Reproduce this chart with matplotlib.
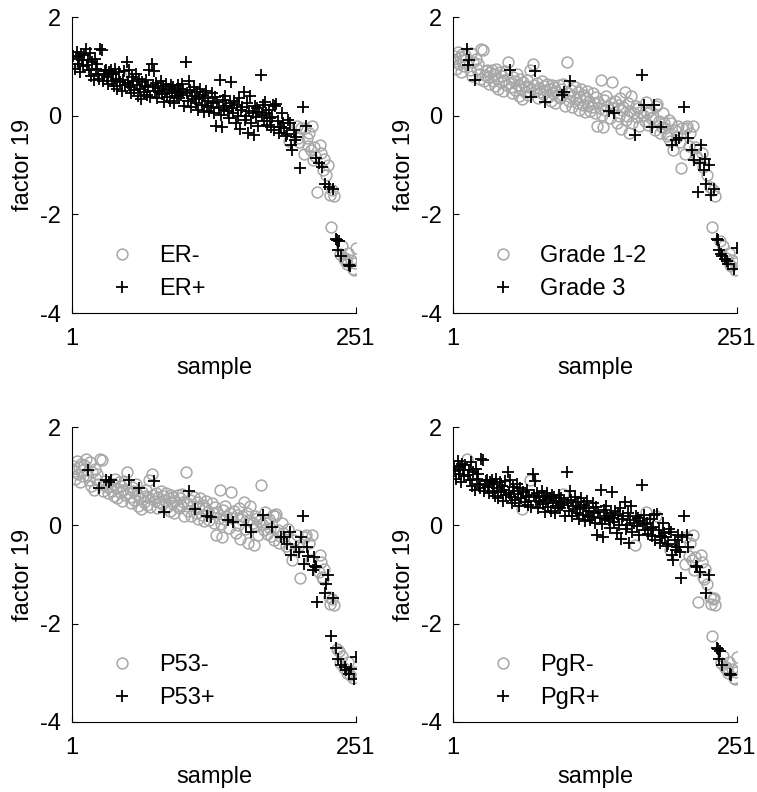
import matplotlib
matplotlib.use("Agg")
import matplotlib.pyplot as plt
from matplotlib.lines import Line2D
import numpy as np

# factor 19 score per sample (samples 1..251, in plotted order)
factor19 = [
    1.15, 1.20, 1.10, 0.95, 1.30, 1.05, 1.18, 0.88, 1.25, 1.12,
    1.00, 1.22, 1.35, 1.03, 1.12, 0.92, 1.28, 0.80, 1.08, 0.72,
    1.15, 0.95, 1.05, 0.85, 0.75, 1.35, 1.33, 0.70, 0.82, 0.90,
    0.92, 0.78, 0.65, 0.88, 0.92, 0.70, 0.85, 0.60, 0.95, 0.75,
    0.55, 0.88, 0.68, 0.80, 0.50, 0.72, 0.90, 0.62, 1.08, 0.66,
    0.92, 0.58, 0.45, 0.78, 0.70, 0.52, 0.85, 0.63, 0.40, 0.75,
    0.55, 0.34, 0.68, 0.48, 0.60, 0.72, 0.42, 0.58, 0.92, 0.38,
    1.05, 0.62, 0.91, 0.50, 0.66, 0.35, 0.57, 0.48, 0.70, 0.44,
    0.60, 0.28, 0.52, 0.65, 0.38, 0.55, 0.30, 0.62, 0.45, 0.58,
    0.25, 0.50, 0.40, 0.62, 0.35, 0.55, 0.42, 0.64, 0.48, 0.20,
    1.08, 0.45, 0.30, 0.70, 0.52, 0.18, 0.40, 0.58, 0.34, 0.25,
    0.48, 0.12, 0.38, 0.55, 0.22, 0.42, 0.08, 0.35, 0.50, 0.20,
    0.30, 0.10, 0.17, 0.45, 0.25, 0.05, 0.38, -0.20, 0.28, 0.15,
    0.72, 0.02, -0.23, 0.32, 0.12, 0.40, 0.20, 0.10, -0.05, 0.26,
    0.68, 0.15, 0.06, 0.30, -0.15, 0.22, 0.00, 0.35, -0.28, 0.12,
    0.18, 0.48, -0.08, 0.00, 0.25, -0.35, 0.10, 0.40, -0.14, 0.05,
    -0.40, 0.20, -0.02, 0.15, -0.20, 0.08, 0.82, 0.02, 0.22, -0.10,
    0.27, 0.05, -0.18, 0.12, -0.05, -0.22, -0.03, 0.21, -0.30, 0.20,
    0.24, -0.10, -0.35, -0.22, -0.23, 0.05, -0.15, -0.24, -0.42, -0.37,
    -0.08, -0.51, -0.14, -0.60, -0.70, -0.30, -0.50, -0.44, -0.20, -0.45,
    -0.54, -1.07, -0.24, 0.18, -0.78, -0.24, -0.20, -0.45, -0.62, -0.35,
    -0.70, -0.20, -0.90, -0.64, -0.82, -0.85, -1.55, -0.95, -0.60, -0.75,
    -1.05, -1.10, -0.88, -1.38, -1.20, -1.00, -1.45, -1.60, -2.25, -1.50,
    -1.48, -1.62, -2.50, -2.52, -2.72, -2.55, -2.80, -2.85, -2.65, -2.90,
    -2.88, -2.95, -3.00, -2.78, -3.03, -3.05, -2.92, -3.10, -3.12, -2.98,
    -2.68,
]

# 1-based sample numbers of the group drawn with circles / crosses
er_neg = [3, 44, 192, 199, 200, 201, 203, 205, 206, 208, 209, 210, 211, 212,
          213, 214, 215, 217, 219, 220, 222, 223, 225, 226, 228, 229, 230,
          232, 237, 239, 240, 241, 242, 243, 244, 247, 248, 249, 250, 251]
grade3 = [13, 14, 15, 20, 51, 70, 73, 82, 97, 99, 104, 138, 143, 161, 167,
          169, 176, 178, 184, 194, 197, 200, 204, 208, 211, 213, 217, 218,
          219, 222, 223, 224, 226, 228, 231, 233, 234, 235, 237, 238, 240,
          242, 243, 248, 251]
p53_pos = [15, 25, 31, 34, 35, 51, 60, 73, 82, 104, 109, 120, 123, 138, 143,
           154, 159, 169, 177, 185, 188, 190, 193, 194, 198, 201, 203, 204,
           205, 208, 209, 213, 214, 215, 216, 217, 224, 225, 226, 229, 231,
           233, 235, 238, 241, 242, 245, 247, 249, 251]
pgr_neg = [13, 62, 69, 98, 161, 171, 180, 192, 205, 206, 209, 210, 211, 212,
           213, 214, 217, 219, 220, 221, 222, 223, 225, 227, 228, 229, 230,
           231, 232, 237, 239, 240, 241, 242, 243, 244, 247, 248, 249, 250, 251]

panels = [
    ("ER-", "ER+", er_neg, "circle"),
    ("Grade 1-2", "Grade 3", grade3, "cross"),
    ("P53-", "P53+", p53_pos, "cross"),
    ("PgR-", "PgR+", pgr_neg, "circle"),
]

plt.rcParams["font.family"] = ["Liberation Sans", "DejaVu Sans"]
GRAY = "#a8a8a8"
FS = 17

fig = plt.figure(figsize=(7.57, 7.92), dpi=100)
W, H = 757.0, 792.0
boxes = [(72, 17, 284, 296), (453, 17, 284, 296),
         (72, 427, 284, 295), (453, 427, 284, 295)]

y = np.array(factor19)
x = np.arange(1, len(y) + 1)

for (lab_o, lab_p, idx, kind), (bx, by, bw, bh) in zip(panels, boxes):
    ax = fig.add_axes([bx / W, 1 - (by + bh) / H, bw / W, bh / H])
    sel = np.zeros(len(y), dtype=bool)
    sel[np.array(idx) - 1] = True
    circ = ~sel if kind == "cross" else sel
    ax.plot(x[circ], y[circ], "o", mfc="none", mec=GRAY, ms=7.8, mew=1.1, zorder=2)
    ax.plot(x[~circ], y[~circ], "+", color="black", ms=8.5, mew=1.3, zorder=3)
    ax.set_xlim(1, 251); ax.set_ylim(-4, 2)
    ax.set_xticks([1, 251]); ax.set_yticks([-4, -2, 0, 2])
    ax.set_yticklabels(["-4", "-2", "0", "2"])
    for s in ("top", "right"):
        ax.spines[s].set_visible(False)
    ax.tick_params(direction="in", length=4, labelsize=FS)
    ax.tick_params(axis="x", pad=11)
    ax.tick_params(axis="y", pad=8)
    ax.set_xlabel("sample", fontsize=FS, labelpad=5)
    ax.set_ylabel("factor 19", fontsize=FS, labelpad=4)
    handles = [Line2D([], [], ls="none", marker="o", mfc="none", mec=GRAY, ms=7.8, mew=1.1),
               Line2D([], [], ls="none", marker="+", color="black", ms=8.5, mew=1.3)]
    ax.legend(handles, [lab_o, lab_p], loc="lower left", bbox_to_anchor=(0.1, 0.012),
              frameon=False, fontsize=FS, handlelength=1.0, handletextpad=1.1,
              labelspacing=0.45, borderaxespad=0)

fig.savefig("out.png", dpi=100)
